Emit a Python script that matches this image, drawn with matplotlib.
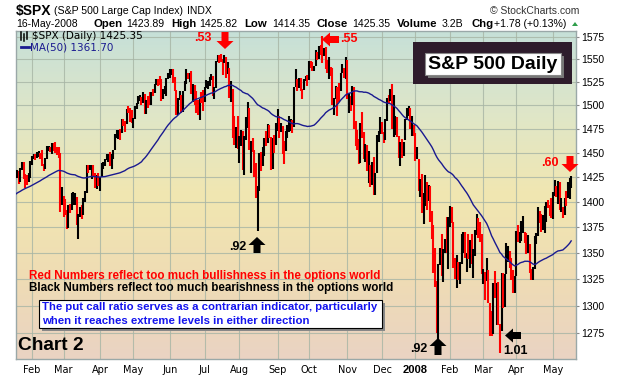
import numpy as np
import pandas as pd
import matplotlib
matplotlib.use("Agg")
import matplotlib.pyplot as plt
from matplotlib.patches import Rectangle, Polygon
from matplotlib.lines import Line2D
from matplotlib.colors import LinearSegmentedColormap
from matplotlib.ticker import NullLocator

plt.rcParams['font.family'] = ['Liberation Sans', 'DejaVu Sans']

# closes before the visible window, only used to warm up the 50 day average
closes_before = [1377.9, 1367.8, 1367.3, 1364.3, 1379.8, 1382.8, 1385.7, 1378.3, 1380.9, 1384.4,
                 1393.2, 1396.6, 1399.8, 1401.2, 1400.5, 1402.8, 1406.1, 1401.0, 1381.4, 1386.7,
                 1399.5, 1400.6, 1396.7, 1409.1, 1414.8, 1412.9, 1407.3, 1409.8, 1413.0, 1411.6,
                 1413.2, 1425.5, 1427.1, 1422.5, 1425.6, 1423.5, 1418.3, 1410.8, 1416.9, 1426.8,
                 1424.7, 1418.3, 1416.6, 1418.3, 1409.7, 1412.8, 1412.1, 1414.9, 1423.8, 1430.7, 1431.9]

# daily closes 17-Jan-2007 .. 16-May-2008 (one line per month)
closes = [
    1430.6, 1426.4, 1430.5, 1422.9, 1431.9, 1440.1, 1423.9, 1422.2, 1420.6, 1428.8, 1438.2,
    1445.9, 1448.4, 1447.0, 1448.0, 1450.0, 1448.3, 1438.1, 1433.4, 1444.3, 1455.3, 1456.8, 1455.5, 1459.7, 1457.6, 1456.4, 1451.2, 1449.4, 1399.0, 1406.8,
    1403.2, 1387.2, 1374.1, 1395.4, 1392.0, 1401.9, 1402.8, 1406.6, 1378.0, 1387.2, 1392.3, 1387.0, 1402.1, 1410.9, 1435.0, 1434.5, 1436.1, 1437.5, 1428.6, 1417.2, 1422.5, 1420.9,
    1424.6, 1437.8, 1439.4, 1443.8, 1444.6, 1448.4, 1438.9, 1447.8, 1452.9, 1468.3, 1471.5, 1472.5, 1470.7, 1484.4, 1480.9, 1480.4, 1495.4, 1494.3, 1494.1, 1482.4,
    1486.3, 1495.9, 1502.4, 1505.6, 1509.5, 1507.7, 1512.6, 1491.5, 1505.9, 1503.2, 1501.2, 1514.1, 1512.8, 1522.8, 1525.1, 1524.1, 1522.3, 1507.5, 1515.7, 1518.1, 1530.2, 1530.6,
    1536.3, 1539.2, 1531.0, 1517.4, 1490.7, 1507.7, 1509.1, 1493.0, 1515.7, 1523.0, 1532.9, 1531.1, 1533.7, 1512.8, 1522.2, 1502.6, 1497.7, 1492.9, 1506.3, 1505.7, 1503.4,
    1519.4, 1524.9, 1525.4, 1530.4, 1531.9, 1510.1, 1518.8, 1547.7, 1552.5, 1549.5, 1549.4, 1546.2, 1553.1, 1534.1, 1541.6, 1511.0, 1518.1, 1482.7, 1459.0, 1473.9, 1455.3,
    1465.8, 1472.2, 1433.1, 1467.7, 1476.7, 1497.5, 1453.1, 1453.6, 1452.9, 1426.5, 1406.7, 1411.3, 1445.9, 1445.6, 1447.1, 1464.1, 1462.5, 1479.4, 1466.8, 1432.4, 1463.8, 1457.6, 1474.0,
    1489.4, 1472.3, 1478.6, 1453.6, 1451.7, 1471.5, 1471.6, 1484.0, 1484.3, 1476.7, 1519.8, 1529.0, 1518.8, 1525.8, 1517.7, 1517.2, 1525.4, 1531.4, 1526.8,
    1547.0, 1546.6, 1539.6, 1542.8, 1557.6, 1552.6, 1565.2, 1562.5, 1554.4, 1561.8, 1548.7, 1538.5, 1541.2, 1540.1, 1500.6, 1506.3, 1519.6, 1515.9, 1514.4, 1535.3, 1541.0, 1531.0, 1549.4,
    1508.4, 1509.7, 1502.2, 1520.3, 1475.6, 1474.8, 1453.7, 1439.2, 1481.1, 1470.6, 1451.2, 1458.7, 1433.3, 1439.7, 1416.8, 1440.7, 1407.2, 1428.2, 1469.0, 1469.7, 1481.1,
    1472.4, 1462.8, 1485.0, 1507.3, 1504.7, 1516.0, 1477.7, 1486.6, 1488.4, 1468.0, 1445.9, 1455.0, 1453.0, 1460.1, 1484.5, 1496.5, 1497.7, 1476.3, 1478.5, 1468.4,
    1447.2, 1447.2, 1411.6, 1416.2, 1390.2, 1409.1, 1420.3, 1401.0, 1416.3, 1381.0, 1373.2, 1333.3, 1325.2, 1310.5, 1338.6, 1352.1, 1330.6, 1354.0, 1362.3, 1355.8, 1378.6,
    1395.4, 1380.8, 1336.6, 1326.5, 1336.9, 1331.3, 1339.1, 1348.9, 1367.2, 1348.9, 1350.0, 1348.8, 1360.0, 1342.5, 1353.1, 1371.8, 1381.3, 1380.0, 1367.7, 1330.6,
    1331.3, 1326.8, 1333.7, 1304.3, 1293.4, 1273.4, 1320.7, 1308.8, 1315.5, 1288.1, 1276.6, 1330.7, 1298.4, 1329.5, 1349.9, 1353.0, 1341.1, 1325.8, 1315.2, 1322.7,
    1370.2, 1367.5, 1369.3, 1370.4, 1372.5, 1365.5, 1354.5, 1360.6, 1332.8, 1328.3, 1334.4, 1364.7, 1365.6, 1390.3, 1388.2, 1375.9, 1379.9, 1388.8, 1397.8, 1396.4, 1390.9, 1385.6,
    1409.3, 1413.9, 1407.5, 1418.3, 1392.6, 1397.7, 1388.3, 1403.6, 1403.0, 1408.7, 1423.6, 1425.4,
]

highs = [
    1435, 1433, 1432, 1431, 1434, 1441, 1441, 1428, 1427, 1429, 1442,
    1447, 1449, 1449, 1451, 1452, 1450, 1453, 1439, 1445, 1457, 1457, 1456, 1460, 1460, 1461, 1456, 1456, 1450, 1415,
    1406, 1403, 1392, 1397, 1398, 1409, 1410, 1409, 1405, 1388, 1395, 1397, 1404, 1411, 1437, 1437, 1438, 1438, 1437, 1429, 1427, 1429,
    1425, 1440, 1441, 1444, 1449, 1449, 1451, 1449, 1453, 1470, 1474, 1474, 1475, 1485, 1485, 1483, 1496, 1499, 1497, 1495,
    1487, 1499, 1503, 1510, 1511, 1509, 1514, 1512, 1506, 1510, 1514, 1514, 1518, 1523, 1529, 1528, 1532, 1529, 1518, 1521, 1530, 1535,
    1540, 1540, 1539, 1531, 1517, 1508, 1515, 1511, 1516, 1526, 1539, 1535, 1535, 1537, 1523, 1522, 1515, 1506, 1507, 1514, 1517,
    1520, 1527, 1526, 1531, 1534, 1532, 1520, 1548, 1555, 1555, 1556, 1550, 1555, 1553, 1547, 1541, 1526, 1518, 1489, 1477, 1489,
    1468, 1474, 1473, 1468, 1488, 1504, 1497, 1462, 1466, 1453, 1440, 1416, 1450, 1451, 1456, 1465, 1473, 1480, 1479, 1467, 1465, 1469, 1481,
    1496, 1489, 1481, 1478, 1462, 1473, 1479, 1489, 1485, 1484, 1520, 1539, 1529, 1530, 1530, 1518, 1529, 1532, 1533,
    1548, 1548, 1547, 1543, 1561, 1558, 1565, 1566, 1576, 1563, 1564, 1549, 1553, 1542, 1541, 1508, 1521, 1520, 1524, 1535, 1545, 1541, 1553,
    1549, 1513, 1510, 1521, 1520, 1483, 1474, 1464, 1481, 1493, 1472, 1459, 1458, 1452, 1438, 1441, 1446, 1429, 1469, 1473, 1488,
    1482, 1472, 1486, 1508, 1511, 1518, 1523, 1511, 1489, 1488, 1468, 1461, 1464, 1461, 1485, 1497, 1499, 1497, 1489, 1479,
    1471, 1456, 1444, 1423, 1428, 1409, 1427, 1420, 1417, 1416, 1391, 1377, 1355, 1323, 1339, 1355, 1368, 1354, 1364, 1385, 1385,
    1396, 1395, 1380, 1345, 1348, 1341, 1341, 1368, 1370, 1370, 1350, 1368, 1363, 1368, 1354, 1372, 1388, 1384, 1380, 1368,
    1335, 1332, 1345, 1334, 1303, 1295, 1321, 1333, 1321, 1322, 1283, 1331, 1331, 1330, 1360, 1357, 1352, 1345, 1334, 1328,
    1371, 1377, 1370, 1381, 1386, 1370, 1369, 1367, 1359, 1335, 1337, 1366, 1369, 1395, 1391, 1388, 1387, 1396, 1400, 1402, 1397, 1404,
    1410, 1422, 1416, 1421, 1420, 1404, 1395, 1404, 1411, 1420, 1424, 1426,
]

lows = [
    1428, 1424, 1424, 1418, 1420, 1432, 1423, 1414, 1417, 1420, 1424,
    1438, 1444, 1443, 1445, 1446, 1444, 1436, 1431, 1433, 1444, 1452, 1451, 1449, 1452, 1450, 1448, 1445, 1390, 1397,
    1385, 1387, 1373, 1374, 1389, 1392, 1397, 1397, 1377, 1364, 1385, 1383, 1387, 1400, 1409, 1429, 1432, 1423, 1426, 1414, 1413, 1416,
    1411, 1425, 1433, 1436, 1443, 1441, 1436, 1433, 1444, 1453, 1466, 1464, 1463, 1471, 1478, 1472, 1480, 1492, 1482, 1481,
    1476, 1486, 1496, 1502, 1505, 1500, 1503, 1491, 1491, 1497, 1500, 1500, 1510, 1513, 1522, 1521, 1522, 1505, 1507, 1512, 1510, 1529,
    1530, 1533, 1524, 1516, 1490, 1490, 1506, 1492, 1493, 1515, 1523, 1529, 1525, 1512, 1504, 1500, 1492, 1490, 1484, 1503, 1494,
    1504, 1519, 1518, 1521, 1527, 1510, 1507, 1519, 1547, 1546, 1547, 1533, 1546, 1530, 1534, 1508, 1504, 1465, 1458, 1455, 1454,
    1440, 1457, 1432, 1427, 1463, 1476, 1453, 1429, 1451, 1425, 1404, 1371, 1411, 1431, 1436, 1447, 1457, 1460, 1466, 1432, 1433, 1450, 1458,
    1473, 1466, 1472, 1449, 1439, 1452, 1465, 1472, 1473, 1471, 1477, 1520, 1515, 1519, 1516, 1507, 1517, 1526, 1521,
    1527, 1541, 1537, 1537, 1543, 1549, 1551, 1555, 1546, 1554, 1540, 1535, 1528, 1532, 1500, 1490, 1507, 1489, 1504, 1515, 1535, 1530, 1529,
    1507, 1492, 1494, 1500, 1475, 1457, 1453, 1439, 1440, 1466, 1444, 1441, 1431, 1419, 1415, 1417, 1407, 1407, 1429, 1461, 1470,
    1470, 1460, 1463, 1483, 1502, 1505, 1475, 1467, 1469, 1467, 1445, 1436, 1445, 1447, 1463, 1484, 1489, 1475, 1468, 1468,
    1442, 1444, 1411, 1405, 1389, 1378, 1396, 1392, 1401, 1380, 1364, 1331, 1318, 1275, 1270, 1338, 1328, 1322, 1350, 1350, 1335,
    1375, 1379, 1336, 1325, 1317, 1324, 1320, 1339, 1350, 1345, 1332, 1344, 1336, 1339, 1326, 1347, 1367, 1365, 1361, 1330,
    1320, 1305, 1323, 1303, 1272, 1272, 1274, 1307, 1282, 1282, 1257, 1277, 1298, 1299, 1330, 1341, 1336, 1324, 1312, 1312,
    1328, 1361, 1360, 1362, 1369, 1360, 1349, 1350, 1331, 1324, 1324, 1335, 1359, 1366, 1379, 1370, 1372, 1369, 1380, 1394, 1386, 1384,
    1383, 1406, 1405, 1398, 1392, 1390, 1384, 1387, 1396, 1404, 1403, 1414,
]

holidays = ['2007-02-19', '2007-04-06', '2007-05-28', '2007-07-04', '2007-09-03', '2007-11-22',
            '2007-12-25', '2008-01-01', '2008-01-21', '2008-02-18', '2008-03-21']
dates = pd.bdate_range('2007-01-17', '2008-05-16', freq='C', holidays=holidays)
assert len(dates) == len(closes) == len(highs) == len(lows), (len(dates), len(closes), len(highs), len(lows))

y_ticks = [1275, 1300, 1325, 1350, 1375, 1400, 1425, 1450, 1475, 1500, 1525, 1550, 1575]

W, H = 620, 376
fig = plt.figure(figsize=(W / 100, H / 100), dpi=100)


def fx(x):
    return x / W


def fy(y):
    return 1 - y / H


def ftext(x, y, s, **kw):
    kw.setdefault('va', 'center')
    return fig.text(fx(x), fy(y), s, **kw)


def rect(x0, y0, x1, y1, **kw):
    r = Rectangle((fx(x0), fy(y1)), fx(x1) - fx(x0), (y1 - y0) / H, transform=fig.transFigure, **kw)
    fig.add_artist(r)


def arrow(direction, cx, cy, length, color, shaft=7, head=17, head_len=8):
    # block arrow in pixel units, pointing 'down', 'up' or 'left'
    h = length / 2
    if direction == 'down':
        pts = [(cx - shaft / 2, cy - h), (cx + shaft / 2, cy - h), (cx + shaft / 2, cy + h - head_len),
               (cx + head / 2, cy + h - head_len), (cx, cy + h), (cx - head / 2, cy + h - head_len),
               (cx - shaft / 2, cy + h - head_len)]
    elif direction == 'up':
        pts = [(cx - shaft / 2, cy + h), (cx + shaft / 2, cy + h), (cx + shaft / 2, cy - h + head_len),
               (cx + head / 2, cy - h + head_len), (cx, cy - h), (cx - head / 2, cy - h + head_len),
               (cx - shaft / 2, cy - h + head_len)]
    else:
        pts = [(cx + h, cy - shaft / 2), (cx + h, cy + shaft / 2), (cx - h + head_len, cy + shaft / 2),
               (cx - h + head_len, cy + head / 2), (cx - h, cy), (cx - h + head_len, cy - head / 2),
               (cx - h + head_len, cy - shaft / 2)]
    fig.add_artist(Polygon([(fx(a), fy(b)) for a, b in pts], closed=True, facecolor=color,
                           edgecolor='none', transform=fig.transFigure, zorder=4))


pos = [fx(16), fy(359), (576 - 16) / W, (359 - 31) / H]

# gradient background
bg = fig.add_axes(pos, zorder=0)
cmap = LinearSegmentedColormap.from_list('bg', ['#c6e0d8', '#dfe6c8', '#f1e7b1', '#efdcb4', '#ead3c3'])
bg.imshow(np.linspace(0, 1, 256).reshape(-1, 1), aspect='auto', cmap=cmap, extent=[0, 1, 0, 1])
bg.axis('off')

ax = fig.add_axes(pos, zorder=1)
ax.patch.set_alpha(0)

x = np.arange(len(closes))
c = np.array(closes)
prev = np.r_[closes_before[-1], c[:-1]]
bar_colors = np.where(c >= prev, 'black', '#ff0000')
ax.vlines(x, lows, highs, colors=bar_colors, lw=1.5, zorder=3)

ma = pd.Series(closes_before + closes).rolling(50).mean().to_numpy()[len(closes_before):]
ax.plot(x, ma, color='#1a1a90', lw=1.0, zorder=4)

ax.set_yscale('log')
ax.set_ylim(1251.6, 1581.8)
ax.set_xlim(1.36, 338.9)
ax.set_yticks(y_ticks)
ax.set_yticklabels([str(v) for v in y_ticks])
ax.yaxis.set_minor_locator(NullLocator())
ax.yaxis.tick_right()
ax.tick_params(axis='y', length=2.5, width=0.8, color='#888888', labelsize=7.5, pad=1.5)

month_idx = [i for i in range(1, len(dates)) if dates[i].month != dates[i - 1].month]
month_lab = ['2008' if dates[i].month == 1 else dates[i].strftime('%b') for i in month_idx]
ax.set_xticks(month_idx)
ax.set_xticklabels(month_lab, family='DejaVu Sans')
ax.tick_params(axis='x', length=0, labelsize=7, pad=4)
for t in ax.get_xticklabels():
    if t.get_text() == '2008':
        t.set_fontweight('bold')
        t.set_family('Liberation Sans')
        t.set_fontsize(8)

ax.grid(True, color='#a7b5a5', lw=0.8, alpha=0.8)
ax.set_axisbelow(True)
for s in ax.spines.values():
    s.set_color('#9aa8a8')
    s.set_linewidth(1)

# header
ftext(16, 11.5, '\\$SPX', fontsize=10, fontweight='bold')
ftext(54, 11.5, '(S&P 500 Large Cap Index)', fontsize=7.6)
ftext(187, 11.5, 'INDX', fontsize=7.5)
ftext(579, 11.5, '© StockCharts.com', fontsize=7.5, ha='right', color='#333333')
ftext(16, 24, '16-May-2008', fontsize=7.5)
row2 = [(94, 'Open', True), (126, '1423.89', False), (171, 'High', True), (199.5, '1425.82', False),
        (244, 'Low', True), (272, '1414.35', False), (317, 'Close', True), (352.5, '1425.35', False),
        (396.5, 'Volume', True), (442, '3.2B', False), (471, 'Chg', True), (494, '+1.78 (+0.13%)', False)]
for px, s, b in row2:
    ftext(px, 24, s, fontsize=8.2 if b else 7.6, fontweight='bold' if b else 'normal')
fig.add_artist(Polygon([(fx(572), fy(26)), (fx(578), fy(26)), (fx(575), fy(22))],
                       facecolor='#2e9e4a', edgecolor='none', transform=fig.transFigure))

# in-plot legend
for lx, y0, y1 in [(21, 32, 40), (24, 34, 41), (27, 32, 39)]:
    fig.add_artist(Line2D([fx(lx), fx(lx)], [fy(y0), fy(y1)], color='black', lw=1.1, transform=fig.transFigure))
ftext(32, 36, '\\$SPX (Daily) 1425.35', fontsize=7.5, family='DejaVu Sans')
fig.add_artist(Line2D([fx(21), fx(29)], [fy(47), fy(47)], color='#1a1a90', lw=2, transform=fig.transFigure))
ftext(30, 47, 'MA(50) 1361.70', fontsize=7.5, family='DejaVu Sans', color='#1a1a90')

# title box
rect(413, 42, 572, 84, facecolor='#2e1c2c', edgecolor='none', zorder=2)
rect(428, 56, 564, 78, facecolor='#777777', edgecolor='none', zorder=2)
rect(425, 53, 561, 75, facecolor='white', edgecolor='#888888', lw=0.8, zorder=3)
ftext(493, 64.5, 'S&P 500 Daily', fontsize=14, fontweight='bold', ha='center', zorder=4)

# put/call annotations
ftext(203, 38, '.53', fontsize=9, fontweight='bold', color='red', ha='center')
arrow('down', 225, 40.5, 17, 'red')
ftext(349, 39, '.55', fontsize=9, fontweight='bold', color='red', ha='center')
arrow('left', 330.5, 39.5, 17, 'red', head=14)
ftext(550, 163, '.60', fontsize=9, fontweight='bold', color='red', ha='center')
arrow('down', 570, 164, 16, 'red')
ftext(238, 247, '.92', fontsize=9, fontweight='bold', ha='center')
arrow('up', 257, 245, 16, 'black')
ftext(419, 349, '.92', fontsize=9, fontweight='bold', ha='center')
arrow('up', 438, 346.5, 17, 'black')
ftext(515, 351, '1.01', fontsize=9, fontweight='bold', ha='center')
arrow('left', 513, 335.5, 16, 'black', head=14)

# notes
ftext(29, 276, 'Red Numbers reflect too much bullishness in the options world', fontsize=8.4,
      fontweight='bold', color='red')
ftext(29, 288, 'Black Numbers reflect too much bearishness in the options world', fontsize=8.4,
      fontweight='bold', color='black')
rect(42, 303, 385, 331, facecolor='#888888', edgecolor='none', zorder=2)
rect(39, 300, 382, 328, facecolor='white', edgecolor='black', lw=0.8, zorder=3)
ftext(42, 306.5, 'The put call ratio serves as a contrarian indicator, particularly', fontsize=8.2,
      fontweight='bold', color='#1414ee', zorder=4)
ftext(42, 320.5, 'when it reaches extreme levels in either direction', fontsize=8.2,
      fontweight='bold', color='#1414ee', zorder=4)
ftext(18, 346, 'Chart 2', fontsize=13.8, fontweight='bold')

fig.savefig('out.png', dpi=100)
